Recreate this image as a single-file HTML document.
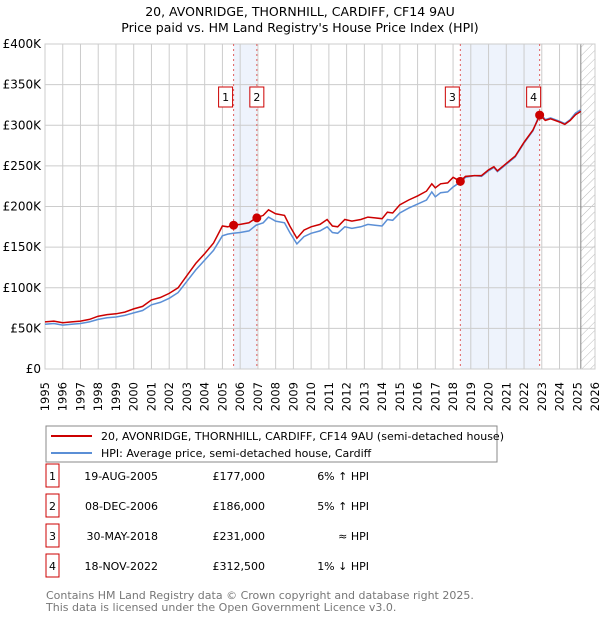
<!DOCTYPE html>
<html><head><meta charset="utf-8"><style>
body{margin:0;background:#fff;font-family:"Liberation Sans","DejaVu Sans",sans-serif;}
svg text{font-family:"DejaVu Sans","Liberation Sans",sans-serif;}
</style></head><body>
<svg id="c" width="600" height="620" xmlns="http://www.w3.org/2000/svg">
<text x="300" y="16" text-anchor="middle" font-size="12.5">20, AVONRIDGE, THORNHILL, CARDIFF, CF14 9AU</text>
<text x="300" y="32" text-anchor="middle" font-size="12.5">Price paid vs. HM Land Registry's House Price Index (HPI)</text>
<g id="plot"></g>
<g>
<rect x="46" y="426" width="451" height="36" fill="#fff" stroke="#888"/>
<line x1="51" y1="436" x2="92" y2="436" stroke="#cc0000" stroke-width="2"/>
<text x="101" y="440" font-size="11">20, AVONRIDGE, THORNHILL, CARDIFF, CF14 9AU (semi-detached house)</text>
<line x1="51" y1="453" x2="92" y2="453" stroke="#5b8fd6" stroke-width="2"/>
<text x="101" y="457" font-size="11">HPI: Average price, semi-detached house, Cardiff</text>
</g>
<g id="table"></g>
<text x="46" y="599" font-size="11" fill="#777">Contains HM Land Registry data © Crown copyright and database right 2025.</text>
<text x="46" y="611" font-size="11" fill="#777">This data is licensed under the Open Government Licence v3.0.</text>
</svg>
<script>
const hpiYears=[1995.0,1995.5,1996.0,1996.5,1997.0,1997.5,1998.0,1998.5,1999.0,1999.5,2000.0,2000.5,2001.0,2001.5,2002.0,2002.5,2003.0,2003.5,2004.0,2004.5,2005.0,2005.3,2005.6,2006.0,2006.5,2006.9,2007.3,2007.6,2008.0,2008.5,2008.8,2009.2,2009.6,2010.0,2010.5,2010.9,2011.2,2011.5,2011.9,2012.3,2012.8,2013.2,2013.6,2014.0,2014.3,2014.6,2015.0,2015.5,2016.0,2016.5,2016.8,2017.0,2017.3,2017.7,2018.0,2018.4,2018.7,2019.2,2019.6,2020.0,2020.3,2020.5,2021.0,2021.5,2022.0,2022.5,2022.9,2023.2,2023.5,2024.0,2024.3,2024.6,2024.9,2025.2];
const hpiValues=[55,56,54,55,56,58,61,63,64,66,69,72,79,82,87,94,108,122,134,146,164,166,167,168,170,177,180,187,182,180,168,154,163,167,170,175,168,167,175,173,175,178,177,176,184,183,192,198,203,208,218,212,217,218,224,230,236,238,237,244,248,243,252,261,278,293,315,307,309,305,302,307,315,319];
const propValues=[58,59,57,58,59,61,65,67,68,70,74,77,85,88,93,100,115,130,142,155,176,175,177,178,180,186,189,196,191,189,176,161,171,175,178,184,176,175,184,182,184,187,186,185,193,192,202,208,213,219,228,223,228,229,236,231,237,238,238,245,249,244,253,262,279,294,312.5,306,308,304,301,306,313,317];
const saleYears=[2005.63,2006.94,2018.41,2022.88];
const salePrices=[177,186,231,312.5];
const saleLabels=["1","2","3","4"];
const saleDates=["19-AUG-2005","08-DEC-2006","30-MAY-2018","18-NOV-2022"];
const salePriceText=["£177,000","£186,000","£231,000","£312,500"];
const saleHpiText=["6% \u2191 HPI","5% \u2191 HPI","\u2248 HPI","1% \u2193 HPI"];
const yTicks=[0,50,100,150,200,250,300,350,400];
const yTickLabels=["£0","£50K","£100K","£150K","£200K","£250K","£300K","£350K","£400K"];
const xTicks=[1995,1996,1997,1998,1999,2000,2001,2002,2003,2004,2005,2006,2007,2008,2009,2010,2011,2012,2013,2014,2015,2016,2017,2018,2019,2020,2021,2022,2023,2024,2025,2026];

const X0=45,X1=595,Y0=369,Y1=44,NS="http://www.w3.org/2000/svg";
const xs=y=>X0+(y-1995)/(2026-1995)*(X1-X0);
const ys=v=>Y0-v/400*(Y0-Y1);
const plot=document.getElementById('plot');
function mk(t,a,p){const e=document.createElementNS(NS,t);for(const k in a)e.setAttribute(k,a[k]);(p||plot).appendChild(e);return e;}
let e;
e=mk('rect',{x:X0,y:Y1,width:X1-X0,height:Y0-Y1,fill:'#fff'});


[[0,1],[2,3]].forEach(p=>{
 e=mk('rect',{x:xs(saleYears[p[0]]),y:Y1,width:xs(saleYears[p[1]])-xs(saleYears[p[0]]),height:Y0-Y1,fill:'#eef3fc'});
 
 
});
const defs=mk('defs',{});
const pat=mk('pattern',{id:'h',width:6,height:6,patternUnits:'userSpaceOnUse',patternTransform:'rotate(45)'},defs);
mk('line',{x1:0,y1:0,x2:0,y2:6,stroke:'#bbb','stroke-width':1},pat);
e=mk('rect',{x:xs(2025.2),y:Y1,width:X1-xs(2025.2),height:Y0-Y1,fill:'url(#h)'});


yTicks.forEach((v,i)=>{
 e=mk('line',{x1:X0,x2:X1,y1:ys(v),y2:ys(v),stroke:'#ccc'});
 
 
 e=mk('text',{x:X0-4,y:ys(v)+4,'text-anchor':'end','font-size':12});
 e.textContent=yTickLabels[i];
 
 
});
xTicks.forEach(y=>{
 e=mk('line',{x1:xs(y),x2:xs(y),y1:Y1,y2:Y0,stroke:'#ccc'});
 
 
 const tx=xs(y)+4,ty=382;
 e=mk('text',{x:tx,y:ty,'text-anchor':'end','font-size':11.5,transform:'rotate(-90 '+tx+' '+ty+')'});
 e.textContent=y;
 
 
});
e=mk('line',{x1:xs(2025.2),x2:xs(2025.2),y1:Y1,y2:Y0,stroke:'#888'});


e=mk('rect',{x:X0,y:Y1,width:X1-X0,height:Y0-Y1,fill:'none',stroke:'#ccc'});


saleYears.forEach(y=>{
 e=mk('line',{x1:xs(y),x2:xs(y),y1:Y1,y2:Y0,stroke:'#e06060','stroke-dasharray':'2,3'});
 
 
});
const path=(vals)=>hpiYears.map((y,i)=>(i?'L':'M')+xs(y).toFixed(1)+','+ys(vals[i]).toFixed(1)).join('');
e=mk('path',{d:path(hpiValues),fill:'none',stroke:'#5b8fd6','stroke-width':1.5});


e=mk('path',{d:path(propValues),fill:'none',stroke:'#cc0000','stroke-width':1.5});


saleYears.forEach((y,i)=>{
 e=mk('circle',{cx:xs(y),cy:ys(salePrices[i]),r:4.5,fill:'#cc0000'});
 
 
 const bx=xs(y)+(i==0?-9:i==1?-1:i==2?-9:-7)-6;
 e=mk('rect',{x:bx,y:87,width:14,height:20,fill:'#fff',stroke:'#cc0000'});
 
 
 e=mk('text',{x:bx+7,y:101,'text-anchor':'middle','font-size':11});
 e.textContent=saleLabels[i];
 
 
});
const tb=document.getElementById('table');
saleLabels.forEach((l,i)=>{
 const yy=476+i*30;
 e=mk('rect',{x:46,y:yy-12,width:13,height:23,fill:'#fff',stroke:'#cc0000'},tb);
 
 
 const t=(x,txt,anc,nm)=>{e=mk('text',{x:x,y:yy+4,'text-anchor':anc,'font-size':11},tb);e.textContent=txt;
  
  };
 t(52.5,l,'middle','row-number');
 t(158,saleDates[i],'end','row-date');
 t(265,salePriceText[i],'end','row-price');
 t(369,saleHpiText[i],'end','row-hpi');
});
</script>
</body></html>
